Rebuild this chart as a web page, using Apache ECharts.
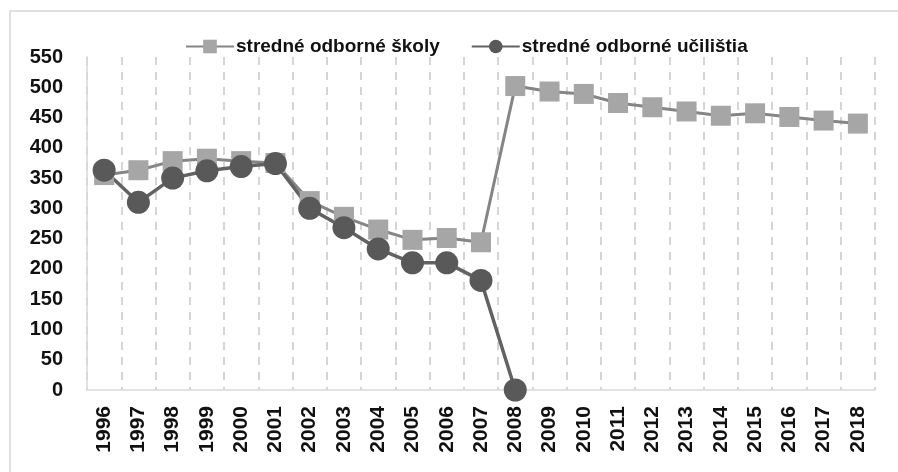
<!DOCTYPE html>
<html>
<head>
<meta charset="utf-8">
<script src="https://cdn.jsdelivr.net/npm/echarts@6/dist/echarts.min.js"></script>
<style>
  html, body { margin: 0; padding: 0; background: #fff; }
  #chart { width: 898px; height: 472px; }
</style>
</head>
<body>
<div id="chart"></div>
<script>
const years = ['1996', '1997', '1998', '1999', '2000', '2001', '2002', '2003', '2004', '2005', '2006', '2007',
  '2008', '2009', '2010', '2011', '2012', '2013', '2014', '2015', '2016', '2017', '2018'];
const skoly = [355, 363, 378, 382, 378, 375, 312, 286, 265, 248, 251, 244,
  502, 493, 489, 474, 467, 460, 453, 457, 451, 445, 440];
const ucilistia = [363, 310, 350, 362, 369, 374, 300, 268, 233, 210, 210, 181, 0];
const seriesNames = ['stredné odborné školy', 'stredné odborné učilištia'];

const chart = echarts.init(document.getElementById('chart'));

const boldFont = { fontFamily: 'Liberation Sans, Arial, sans-serif', fontWeight: 'bold', color: '#111' };

chart.setOption({
  animation: false,
  graphic: [{
    type: 'rect',
    shape: { x: 10, y: 11, width: 900, height: 500 },
    style: { fill: 'none', stroke: '#d6d6d6', lineWidth: 1.5 },
    silent: true
  }],
  legend: {
    top: 32,
    left: 180,
    itemWidth: 48,
    itemHeight: 17,
    itemGap: 31,
    textStyle: { ...boldFont, fontSize: 19, padding: [0, 0, 0, -3] },
    data: seriesNames
  },
  grid: { left: 87, right: 23, top: 57, bottom: 82 },
  xAxis: {
    type: 'category',
    data: years,
    boundaryGap: true,
    axisLine: { lineStyle: { color: '#d9d9d9', width: 1.5 } },
    axisTick: { show: false },
    axisLabel: { ...boldFont, fontSize: 21, rotate: 90, margin: 16, interval: 0 },
    splitLine: { show: true, interval: 0, lineStyle: { color: '#c8c8c8', type: [8, 7], width: 1.5 } }
  },
  yAxis: {
    type: 'value',
    min: 0,
    max: 550,
    interval: 50,
    axisLine: { show: true, lineStyle: { color: '#d9d9d9', width: 1.5 } },
    axisTick: { show: false },
    splitLine: { show: false },
    axisLabel: { ...boldFont, fontSize: 20, margin: 24 }
  },
  series: [
    {
      name: seriesNames[0],
      type: 'line',
      data: skoly,
      symbol: 'rect',
      symbolSize: 20,
      itemStyle: { color: '#a6a6a6' },
      lineStyle: { color: '#858585', width: 3 }
    },
    {
      name: seriesNames[1],
      type: 'line',
      data: ucilistia,
      symbol: 'circle',
      symbolSize: 23,
      itemStyle: { color: '#595959' },
      lineStyle: { color: '#626262', width: 3.5 }
    }
  ]
});
</script>
</body>
</html>
